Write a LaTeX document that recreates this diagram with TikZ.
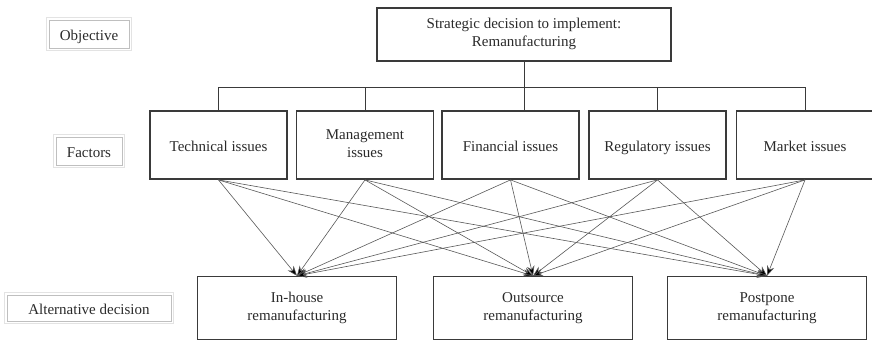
\documentclass[tikz,border=0pt]{standalone}
\usepackage{fontspec}
\setmainfont{Liberation Serif}
\usetikzlibrary{arrows.meta}
\definecolor{txt}{HTML}{2A2A2A}
\definecolor{edge}{HTML}{3A3A3A}
\newcommand{\topstrut}{\rule{0pt}{16.5pt}}
\newcommand{\botstrut}{\rule[-3.5pt]{0pt}{3.5pt}}
\tikzset{
  every node/.style={font=\fontsize{15}{18}\selectfont, text=txt, align=center, inner sep=0pt,
    execute at begin node=\topstrut, execute at end node=\botstrut},
  levelbox/.style={draw=gray!50, line width=0.8pt},
  levelrim/.style={draw=gray!22, line width=1pt},
  mainbox/.style={draw=edge, line width=1.6pt},
  factorbox/.style={draw=edge, line width=1.8pt, minimum width=137pt, minimum height=68pt},
  altbox/.style={draw=edge, line width=1.3pt, minimum width=199pt, minimum height=63pt},
  tree/.style={draw=edge, line width=0.7pt},
  link/.style={draw=edge!85, line width=0.6pt, -{Stealth[length=10pt, width=7.5pt, fill=black]}}
}
\begin{document}
\begin{tikzpicture}[x=1pt, y=-1pt]
\useasboundingbox (0,0) rectangle (872,342);

% level labels on the left, each with a faint outer rim
\node[levelbox, minimum width=80pt, minimum height=28pt] (lobj) at (89,34) {Objective};
\node[levelbox, minimum width=66pt, minimum height=28pt] (lfac) at (89,151) {Factors};
\node[levelbox, minimum width=164pt, minimum height=26pt] (lalt) at (89,308) {Alternative decision};
\foreach \n in {lobj,lfac,lalt}{
  \draw[levelrim] ([shift={(-2.2,2.2)}]\n.south west) rectangle ([shift={(2.2,-2.2)}]\n.north east);
}

% objective
\node[mainbox, minimum width=294pt, minimum height=53pt] (goal) at (524,34.5)
  {Strategic decision to implement:\\Remanufacturing};

% factors
\node[factorbox] (tech) at (218.5,145) {Technical issues};
\node[factorbox] (mgmt) at (365,145) {Management\\issues};
\node[factorbox] (fin)  at (510.5,145) {Financial issues};
\node[factorbox] (reg)  at (657.5,145) {Regulatory issues};
\node[factorbox] (mkt)  at (805,145) {Market issues};

% alternatives
\node[altbox] (inh) at (297,308) {In-house\\remanufacturing};
\node[altbox] (out) at (533,308) {Outsource\\remanufacturing};
\node[altbox] (pos) at (767,308) {Postpone\\remanufacturing};

% hierarchy tree
\coordinate (bar) at (0,87);
\draw[tree] (tech.north) -- (tech.north |- bar) -- (mkt.north |- bar) -- (mkt.north);
\draw[tree] (mgmt.north) -- (mgmt.north |- bar);
\draw[tree] (reg.north) -- (reg.north |- bar);
\draw[tree] (goal.south) -- (goal.south |- fin.north);

% every factor feeds every alternative
\foreach \f in {tech,mgmt,fin,reg,mkt}{
  \foreach \a in {inh,out,pos}{
    \draw[link] (\f.south) -- (\a.north);
  }
}
\end{tikzpicture}
\end{document}
